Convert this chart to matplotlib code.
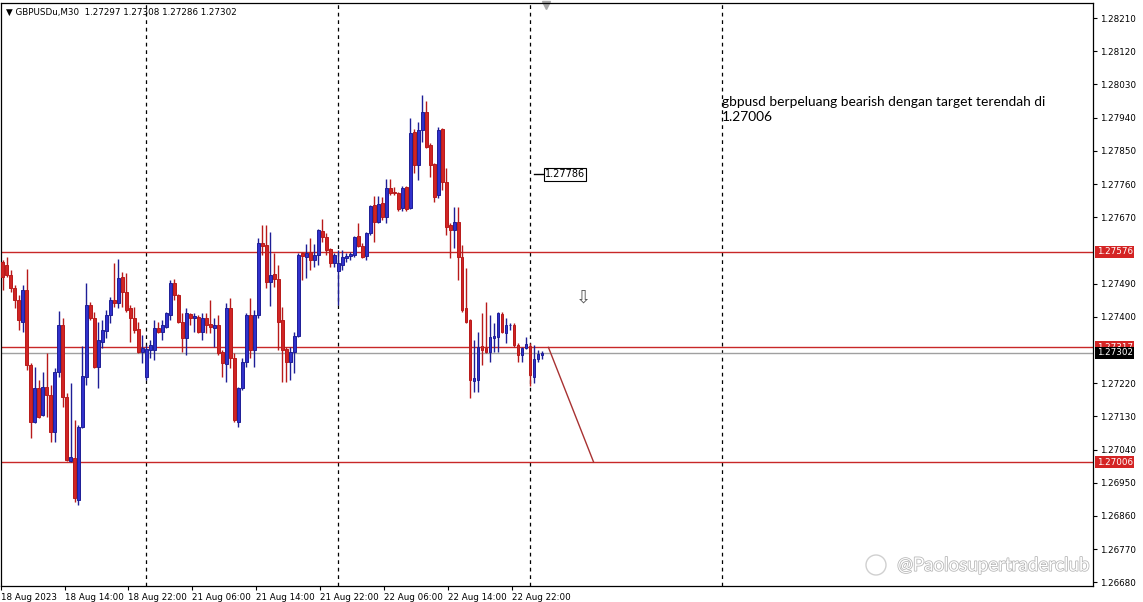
import numpy as np
import matplotlib.pyplot as plt
import matplotlib.patheffects as pe
from matplotlib.patches import Circle
from matplotlib.transforms import blended_transform_factory, IdentityTransform

# GBPUSDu M30 bars, 18 Aug 2023 06:00 -> 23 Aug 2023 03:30
o = [1.27548, 1.27540, 1.27513, 1.27478, 1.27446, 1.27386, 1.27473, 1.27269, 1.27115, 1.27207,
     1.27134, 1.27210, 1.27188, 1.27088, 1.27250, 1.27378, 1.27182, 1.27009, 1.27017, 1.26903,
     1.27101, 1.27237, 1.27432, 1.27397, 1.27264, 1.27332, 1.27361, 1.27405, 1.27446, 1.27437,
     1.27508, 1.27467, 1.27424, 1.27397, 1.27367, 1.27305, 1.27237, 1.27310, 1.27310, 1.27370,
     1.27359, 1.27372, 1.27405, 1.27492, 1.27459, 1.27386, 1.27342, 1.27408, 1.27397, 1.27399,
     1.27359, 1.27397, 1.27380, 1.27370, 1.27378, 1.27305, 1.27272, 1.27424, 1.27288, 1.27115,
     1.27207, 1.27277, 1.27405, 1.27310, 1.27405, 1.27600, 1.27595, 1.27494, 1.27516, 1.27502,
     1.27391, 1.27313, 1.27277, 1.27305, 1.27348, 1.27573, 1.27562, 1.27576, 1.27554, 1.27567,
     1.27633, 1.27616, 1.27584, 1.27546, 1.27524, 1.27540, 1.27559, 1.27565, 1.27567, 1.27619,
     1.27592, 1.27565, 1.27627, 1.27703, 1.27657, 1.27709, 1.27671, 1.27749, 1.27738, 1.27736,
     1.27695, 1.27752, 1.27695, 1.27901, 1.27812, 1.27906, 1.27955, 1.27866, 1.27814, 1.27730,
     1.27909, 1.27765, 1.27649, 1.27635, 1.27657, 1.27562, 1.27424, 1.27391, 1.27226, 1.27229,
     1.27321, 1.27315, 1.27305, 1.27342, 1.27345, 1.27408, 1.27356, 1.27378, 1.27378, 1.27323,
     1.27296, 1.27315, 1.27321, 1.27237, 1.27286, 1.27297]
h = [1.27554, 1.27562, 1.27527, 1.27486, 1.27459, 1.27486, 1.27530, 1.27275, 1.27264, 1.27229,
     1.27250, 1.27302, 1.27215, 1.27261, 1.27416, 1.27397, 1.27193, 1.27220, 1.27120, 1.27107,
     1.27321, 1.27492, 1.27440, 1.27413, 1.27386, 1.27391, 1.27418, 1.27454, 1.27546, 1.27557,
     1.27521, 1.27519, 1.27432, 1.27427, 1.27386, 1.27351, 1.27323, 1.27337, 1.27391, 1.27386,
     1.27391, 1.27413, 1.27500, 1.27502, 1.27462, 1.27410, 1.27424, 1.27410, 1.27410, 1.27405,
     1.27410, 1.27410, 1.27446, 1.27397, 1.27405, 1.27310, 1.27437, 1.27451, 1.27302, 1.27210,
     1.27288, 1.27410, 1.27451, 1.27418, 1.27614, 1.27649, 1.27649, 1.27630, 1.27573, 1.27540,
     1.27427, 1.27318, 1.27318, 1.27359, 1.27573, 1.27576, 1.27597, 1.27614, 1.27597, 1.27638,
     1.27665, 1.27627, 1.27586, 1.27573, 1.27581, 1.27581, 1.27573, 1.27576, 1.27619, 1.27654,
     1.27600, 1.27630, 1.27703, 1.27727, 1.27727, 1.27725, 1.27774, 1.27774, 1.27752, 1.27738,
     1.27755, 1.27755, 1.27939, 1.27909, 1.27928, 1.28001, 1.27985, 1.27871, 1.27817, 1.27914,
     1.27912, 1.27803, 1.27654, 1.27698, 1.27698, 1.27595, 1.27532, 1.27394, 1.27337, 1.27359,
     1.27410, 1.27440, 1.27405, 1.27383, 1.27413, 1.27413, 1.27397, 1.27383, 1.27383, 1.27329,
     1.27318, 1.27345, 1.27329, 1.27323, 1.27310, 1.27308]
l = [1.27473, 1.27508, 1.27467, 1.27424, 1.27364, 1.27359, 1.27256, 1.27071, 1.27112, 1.27126,
     1.27131, 1.27128, 1.27061, 1.27061, 1.27237, 1.27155, 1.27009, 1.27006, 1.26898, 1.26890,
     1.27098, 1.27215, 1.27391, 1.27261, 1.27207, 1.27315, 1.27342, 1.27383, 1.27427, 1.27424,
     1.27427, 1.27413, 1.27332, 1.27356, 1.27302, 1.27275, 1.27229, 1.27288, 1.27283, 1.27356,
     1.27337, 1.27370, 1.27391, 1.27446, 1.27383, 1.27305, 1.27296, 1.27378, 1.27359, 1.27356,
     1.27337, 1.27356, 1.27356, 1.27318, 1.27296, 1.27237, 1.27223, 1.27261, 1.27115, 1.27101,
     1.27202, 1.27264, 1.27288, 1.27264, 1.27397, 1.27567, 1.27478, 1.27429, 1.27481, 1.27310,
     1.27223, 1.27223, 1.27229, 1.27248, 1.27345, 1.27500, 1.27505, 1.27527, 1.27535, 1.27540,
     1.27603, 1.27567, 1.27535, 1.27535, 1.27432, 1.27527, 1.27548, 1.27554, 1.27562, 1.27589,
     1.27560, 1.27554, 1.27622, 1.27603, 1.27654, 1.27662, 1.27654, 1.27730, 1.27730, 1.27687,
     1.27687, 1.27687, 1.27692, 1.27790, 1.27771, 1.27874, 1.27858, 1.27779, 1.27711, 1.27722,
     1.27744, 1.27622, 1.27559, 1.27586, 1.27500, 1.27413, 1.27383, 1.27180, 1.27196, 1.27196,
     1.27269, 1.27302, 1.27277, 1.27305, 1.27305, 1.27356, 1.27329, 1.27364, 1.27318, 1.27277,
     1.27277, 1.27313, 1.27212, 1.27220, 1.27277, 1.27286]
c = [1.27508, 1.27513, 1.27478, 1.27446, 1.27391, 1.27473, 1.27269, 1.27115, 1.27207, 1.27128,
     1.27210, 1.27188, 1.27088, 1.27250, 1.27378, 1.27182, 1.27012, 1.27020, 1.26909, 1.27101,
     1.27240, 1.27432, 1.27397, 1.27264, 1.27337, 1.27364, 1.27405, 1.27446, 1.27437, 1.27505,
     1.27467, 1.27418, 1.27397, 1.27364, 1.27305, 1.27315, 1.27313, 1.27323, 1.27370, 1.27359,
     1.27378, 1.27410, 1.27492, 1.27459, 1.27386, 1.27342, 1.27410, 1.27397, 1.27402, 1.27359,
     1.27397, 1.27378, 1.27372, 1.27378, 1.27302, 1.27275, 1.27424, 1.27288, 1.27120, 1.27207,
     1.27277, 1.27405, 1.27310, 1.27405, 1.27600, 1.27592, 1.27494, 1.27513, 1.27502, 1.27386,
     1.27310, 1.27277, 1.27305, 1.27348, 1.27567, 1.27565, 1.27573, 1.27554, 1.27567, 1.27635,
     1.27616, 1.27581, 1.27546, 1.27567, 1.27546, 1.27562, 1.27565, 1.27570, 1.27616, 1.27592,
     1.27562, 1.27627, 1.27700, 1.27657, 1.27706, 1.27671, 1.27749, 1.27736, 1.27736, 1.27692,
     1.27749, 1.27692, 1.27898, 1.27812, 1.27906, 1.27955, 1.27860, 1.27812, 1.27725, 1.27906,
     1.27765, 1.27643, 1.27635, 1.27657, 1.27562, 1.27418, 1.27386, 1.27229, 1.27234, 1.27318,
     1.27310, 1.27305, 1.27345, 1.27348, 1.27410, 1.27359, 1.27378, 1.27378, 1.27323, 1.27296,
     1.27315, 1.27326, 1.27242, 1.27286, 1.27299, 1.27302]

symbol = 'GBPUSDu,M30'
time_labels = ['18 Aug 2023', '18 Aug 14:00', '18 Aug 22:00', '21 Aug 06:00', '21 Aug 14:00',
               '21 Aug 22:00', '22 Aug 06:00', '22 Aug 14:00', '22 Aug 22:00']
time_label_bars = [0, 16, 32, 48, 64, 80, 96, 112, 128]
day_start_bars = [36, 84, 132, 180]
price_ticks = [1.28210, 1.28120, 1.28030, 1.27940, 1.27850, 1.27760, 1.27670, 1.27490,
               1.27400, 1.27220, 1.27130, 1.27040, 1.26950, 1.26860, 1.26770, 1.26680]
levels = [1.27576, 1.27317, 1.27006]
bid = 1.27302
price_label = 1.27786
trend_x = [136.6, 147.9]
trend_y = [1.27317, 1.27006]
note = 'gbpusd berpeluang bearish dengan target terendah di\n1.27006'

fig = plt.figure(figsize=(11.43, 6.02), dpi=100)
ax = fig.add_axes([0.0005, 0.0266, 0.9558, 0.9684])
ax.set_xlim(-0.375, 272.875)
ax.set_ylim(1.266702, 1.282507)

x = np.arange(len(o))
o, h, l, c = map(np.array, (o, h, l, c))
up = c >= o
fill = np.where(up, '#3030cc', '#d02424')
edge = np.where(up, '#1e1e96', '#b81a1a')
ax.vlines(x, l, h, colors=edge, lw=1, zorder=3)
ax.bar(x, np.maximum(np.abs(c - o), 0.00001), bottom=np.minimum(o, c), width=0.68,
       color=fill, edgecolor=edge, linewidth=0.7, zorder=4)

for b in day_start_bars:
    ax.axvline(b, color='black', lw=0.9, ls=(0, (3, 3)), zorder=1)
for p in levels:
    ax.axhline(p, color='#c82828', lw=1, zorder=2)
ax.axhline(bid, color='#a0a0a0', lw=1, zorder=2)

ax.plot(trend_x, trend_y, color='#a83232', lw=1, zorder=2)

# price label object
ax.plot([132.9, 135.4], [price_label] * 2, color='black', lw=1)
ax.text(135.75, price_label, f'{price_label:.5f}', fontsize=7, va='center', ha='left',
        bbox=dict(boxstyle='square,pad=0.12', fc='white', ec='black', lw=0.8))

ax.text(145.4, 1.27451, '\u21e9', fontsize=13, ha='center', va='center', color='#555555')

ax.text(180.1, 1.27962, note, fontsize=9.9, family='Lato', ha='left', va='center',
        linespacing=1.25)

# header
ax.text(0.0046, 0.9846, f'\u25bc {symbol}  {o[-1]:.5f} {h[-1]:.5f} {l[-1]:.5f} {c[-1]:.5f}',
        transform=ax.transAxes, fontsize=6.3, va='center', ha='left')

# shift marker
tr = blended_transform_factory(ax.transData, ax.transAxes)
ax.plot([135.9], [0.997], marker='v', ms=6, color='#a8a8a8', transform=tr, clip_on=False)

# axes
ax.yaxis.tick_right()
ax.set_yticks(price_ticks)
ax.set_yticklabels([f'{p:.5f}' for p in price_ticks])
ax.tick_params(axis='y', length=3, width=0.8, pad=2, labelsize=6.3)
ax.set_xticks(np.array(time_label_bars) - 0.5)
ax.set_xticklabels(time_labels)
ax.tick_params(axis='x', length=3, width=0.8, pad=2, labelsize=6.3)
plt.setp(ax.get_xticklabels(), ha='left')
for s in ax.spines.values():
    s.set_linewidth(0.9)

# red level labels and bid label on price scale
trY = blended_transform_factory(ax.transAxes, ax.transData)
for p in levels:
    ax.text(1.0035, p, f'{p:.5f}', transform=trY, fontsize=6.3, color='white', va='center',
            ha='left', clip_on=False, zorder=6,
            bbox=dict(boxstyle='square,pad=0.18', fc='#d42424', ec='none'))
ax.text(1.0035, bid, f'{bid:.5f}', transform=trY, fontsize=6.3, color='white', va='center',
        ha='left', clip_on=False, zorder=7,
        bbox=dict(boxstyle='square,pad=0.18', fc='black', ec='none'))

# watermark
fig.text(0.785, 0.061, '@Paolosupertraderclub', fontsize=13.5, family='Lato', color='white',
         va='center', ha='left', zorder=10,
         path_effects=[pe.Stroke(linewidth=1.1, foreground='#b4b4b4'), pe.Normal()])
fig.add_artist(Circle((876, 37), 10, transform=IdentityTransform(), fill=False,
                      ec='#d0d0d0', lw=1))

fig.savefig('out.png', dpi=100, facecolor='white')
